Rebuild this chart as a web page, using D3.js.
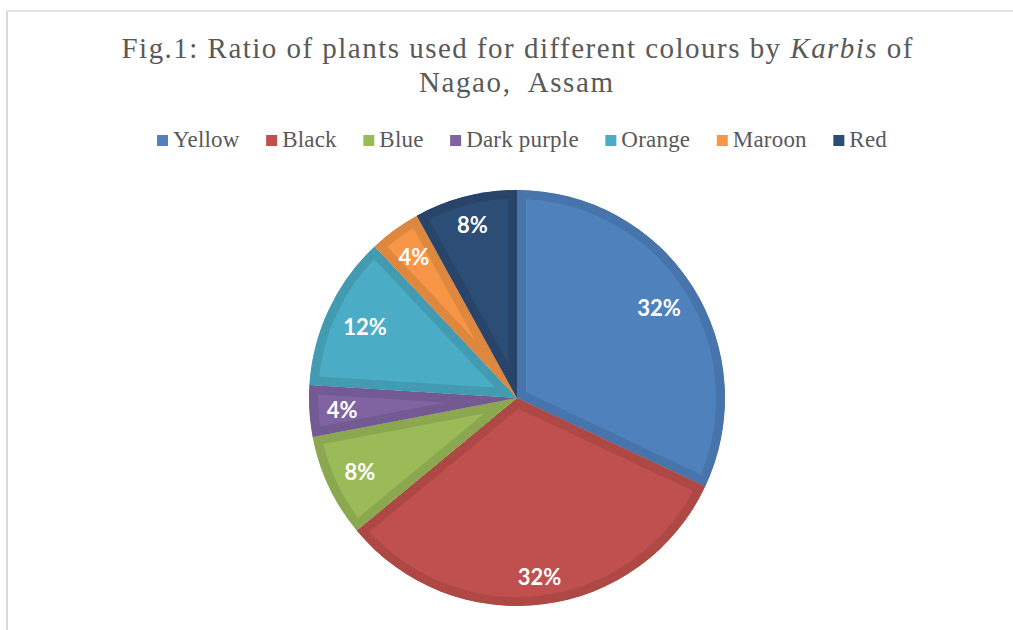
<!DOCTYPE html>
<html><head><meta charset="utf-8">
<script src="https://cdn.jsdelivr.net/npm/d3@7"></script>
<style>body{margin:0;background:#fff}svg{display:block}</style>
</head><body>
<svg id="chart" width="1013" height="630"></svg>
<script>
// ---- data ----
const categories = ["Yellow", "Black", "Blue", "Dark purple", "Orange", "Maroon", "Red"];
const values = [8, 8, 2, 1, 3, 1, 2];
const colors = ["#4F81BD", "#C0504D", "#9BBB59", "#8064A2", "#4BACC6", "#F79646", "#2C4D75"];
const titleLine1 = [
  {t: "Fig.1: Ratio of plants used for different colours by ", italic: false},
  {t: "Karbis", italic: true},
  {t: " of", italic: false}
];
const titleLine2 = "Nagao,  Assam";

// ---- layout ----
const W = 1013, H = 630;
const cx = 517, cy = 398, R = 208, band = 9;
const svg = d3.select("#chart");
svg.append("rect").attr("width", W).attr("height", H).attr("fill", "#fff");

// chart area border (only left & top visible)
svg.append("line").attr("x1", 7).attr("y1", 11).attr("x2", W).attr("y2", 11)
  .attr("stroke", "#d9d9d9").attr("stroke-width", 1.5);
svg.append("line").attr("x1", 7).attr("y1", 11).attr("x2", 7).attr("y2", H)
  .attr("stroke", "#d9d9d9").attr("stroke-width", 2);

// title
const serif = "'Liberation Serif','Times New Roman',serif";
const t1 = svg.append("text").attr("x", 517).attr("y", 58)
  .attr("text-anchor", "middle").attr("fill", "#595959")
  .style("font-family", serif).style("font-size", "29px")
  .attr("textLength", 791).attr("lengthAdjust", "spacing")
  .attr("xml:space", "preserve").style("white-space", "pre");
titleLine1.forEach(p => t1.append("tspan").text(p.t).style("font-style", p.italic ? "italic" : "normal"));
svg.append("text").attr("x", 516).attr("y", 92)
  .attr("text-anchor", "middle").attr("fill", "#595959")
  .style("font-family", serif).style("font-size", "29px")
  .style("white-space", "pre").attr("xml:space", "preserve")
  .attr("textLength", 194).attr("lengthAdjust", "spacing")
  .text(titleLine2);

// legend
const legendStart = 157, legendEnd = 887, mk = 11, mkGap = 5, legendBase = 147;
const lg = svg.append("g");
const items = categories.map((c, i) => {
  const g = lg.append("g");
  g.append("rect").attr("width", mk).attr("height", mk).attr("y", legendBase - 12).attr("fill", colors[i]);
  const tx = g.append("text").attr("x", mk + mkGap).attr("y", legendBase)
    .attr("fill", "#595959").style("font-family", serif).style("font-size", "23px")
    .style("letter-spacing", "0.2px").text(c);
  const w = tx.node().getComputedTextLength();
  return {g, w: mk + mkGap + w};
});
const totalItems = d3.sum(items, d => d.w);
const spacing = (legendEnd - legendStart - totalItems) / (items.length - 1);
let xpos = legendStart;
items.forEach(it => { it.g.attr("transform", `translate(${xpos},0)`); xpos += it.w + spacing; });

// pie
const pie = d3.pie().sort(null).value(d => d)(values);
const arc = d3.arc().innerRadius(0).outerRadius(R);
const total = d3.sum(values);
const pg = svg.append("g").attr("transform", `translate(${cx},${cy})`);
const defs = svg.append("defs");
pie.forEach((d, i) => {
  defs.append("clipPath").attr("id", "clip" + i).append("path").attr("d", arc(d));
  pg.append("path").attr("d", arc(d))
    .attr("fill", colors[i])
    .attr("stroke", d3.color(colors[i]).darker(0.3))
    .attr("stroke-width", band * 2)
    .attr("stroke-linejoin", "round")
    .attr("clip-path", `url(#clip${i})`);
});

// data labels (inside end)
const fmt = d3.format(".0%");
pie.forEach((d, i) => {
  const a = (d.startAngle + d.endAngle) / 2;
  const t = pg.append("text").attr("text-anchor", "middle").attr("dominant-baseline", "central")
    .attr("fill", "#fff").style("font-family", "Lato, 'Open Sans', sans-serif")
    .style("font-weight", 700).style("font-size", "22px")
    .text(fmt(d.value / total));
  const hw = t.node().getComputedTextLength() / 2, hh = 8;
  const r = 191 - (hw * Math.abs(Math.sin(a)) + hh * Math.abs(Math.cos(a)));
  t.attr("x", r * Math.sin(a)).attr("y", -r * Math.cos(a));
});
</script>
</body></html>
